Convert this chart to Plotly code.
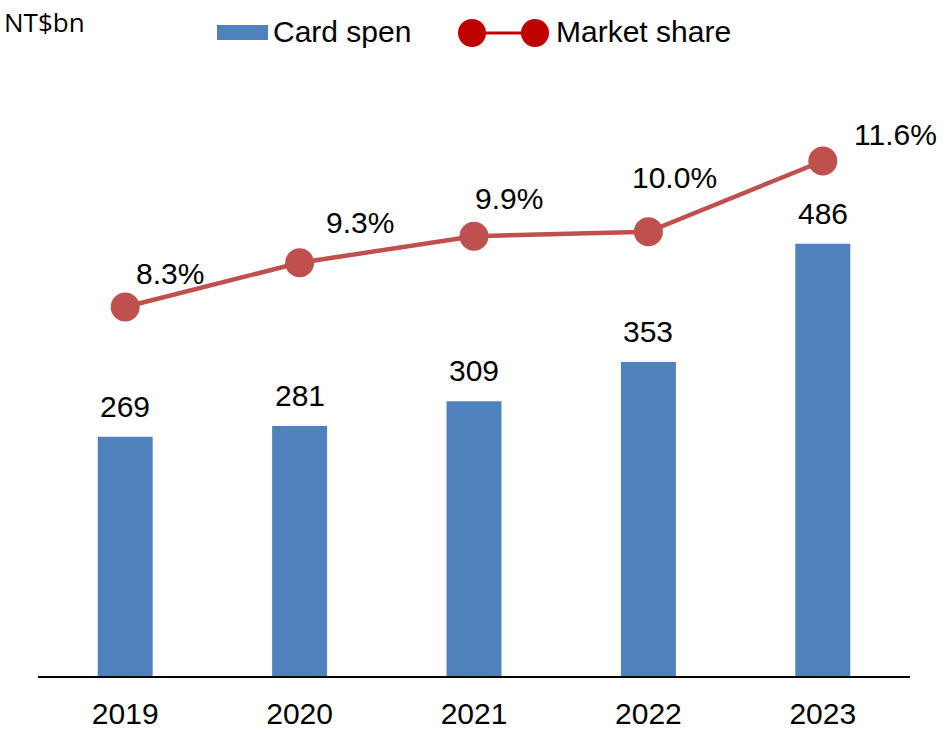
import plotly.graph_objects as go

years = ["2019", "2020", "2021", "2022", "2023"]
card_spend = [269, 281, 309, 353, 486]          # NT$bn
market_share = [8.3, 9.3, 9.9, 10.0, 11.6]      # %

W, H = 947, 729
L, R, T, B = 38, 37, 80, 53
FONT = "Arial, Liberation Sans, sans-serif"
BLUE = "#4F81BD"
RED = "#C0504D"
DARK_RED = "#C00000"

# label offsets (px) for the share labels, per point
share_dx = [45, 60, 35, 26, 73]
share_dy = [33, 40, 38, 54, 26]


def px_x(x):
    return (x - L) / (W - L - R)


def px_y(y):
    return (H - B - y) / (H - T - B)


fig = go.Figure()
fig.add_trace(go.Bar(
    x=years, y=card_spend, name="Card spend",
    marker=dict(color=BLUE, line=dict(width=0)),
    showlegend=False,
))
fig.add_trace(go.Scatter(
    x=years, y=market_share, name="Market share", yaxis="y2",
    mode="lines+markers",
    line=dict(color=RED, width=4.5),
    marker=dict(color=RED, size=29),
    showlegend=False,
))

# category axes take annotation x as the category index
annotations = []
for i, v in enumerate(card_spend):
    annotations.append(dict(
        x=i, y=v, xref="x", yref="y", text=str(v), showarrow=False,
        yanchor="bottom", yshift=12, font=dict(size=30, color="black", family=FONT),
    ))
for i, (v, dx, dy) in enumerate(zip(market_share, share_dx, share_dy)):
    annotations.append(dict(
        x=i, y=v, xref="x", yref="y2", text=f"{v:.1f}%", showarrow=False,
        xshift=dx, yshift=dy, font=dict(size=30, color="black", family=FONT),
    ))

# unit label, tucked against the left edge like the source
annotations.append(dict(
    x=px_x(2), y=px_y(22), xref="paper", yref="paper", text="NT$bn",
    showarrow=False, xanchor="left", yanchor="middle",
    font=dict(size=26, color="black", family="Open Sans, sans-serif"),
))

# hand-drawn legend
annotations.append(dict(
    x=px_x(271), y=px_y(32), xref="paper", yref="paper", text="Card spen",
    showarrow=False, xanchor="left", yanchor="middle",
    font=dict(size=30, color="black", family=FONT),
))
annotations.append(dict(
    x=px_x(554), y=px_y(32), xref="paper", yref="paper", text="Market share",
    showarrow=False, xanchor="left", yanchor="middle",
    font=dict(size=30, color="black", family=FONT),
))

shapes = [
    dict(type="rect", xref="paper", yref="paper",
         x0=px_x(217), x1=px_x(268), y0=px_y(40), y1=px_y(25),
         fillcolor=BLUE, line=dict(width=0)),
    dict(type="line", xref="paper", yref="paper",
         x0=px_x(472), x1=px_x(535), y0=px_y(33), y1=px_y(33),
         line=dict(color=DARK_RED, width=3)),
]
for cx in (472, 535):
    shapes.append(dict(type="circle", xref="paper", yref="paper",
                       x0=px_x(cx - 14), x1=px_x(cx + 14),
                       y0=px_y(33 + 14), y1=px_y(33 - 14),
                       fillcolor=DARK_RED, line=dict(width=0)))

fig.update_layout(
    width=W, height=H,
    margin=dict(l=L, r=R, t=T, b=B, autoexpand=False),
    paper_bgcolor="white", plot_bgcolor="white",
    bargap=0.685,
    font=dict(family=FONT, color="black"),
    xaxis=dict(
        type="category", range=[-0.5, len(years) - 0.5],
        showline=True, linecolor="black", linewidth=2,
        showgrid=False, ticks="", tickfont=dict(size=30),
        ticklabelstandoff=10,
    ),
    yaxis=dict(range=[0, 670], visible=False, showgrid=False),
    yaxis2=dict(range=[-0.04, 13.43], overlaying="y", visible=False, showgrid=False),
    annotations=annotations,
    shapes=shapes,
    showlegend=False,
)

fig.write_html("out.html", config={"displayModeBar": False},
               post_script="document.body.style.margin = '0';")
